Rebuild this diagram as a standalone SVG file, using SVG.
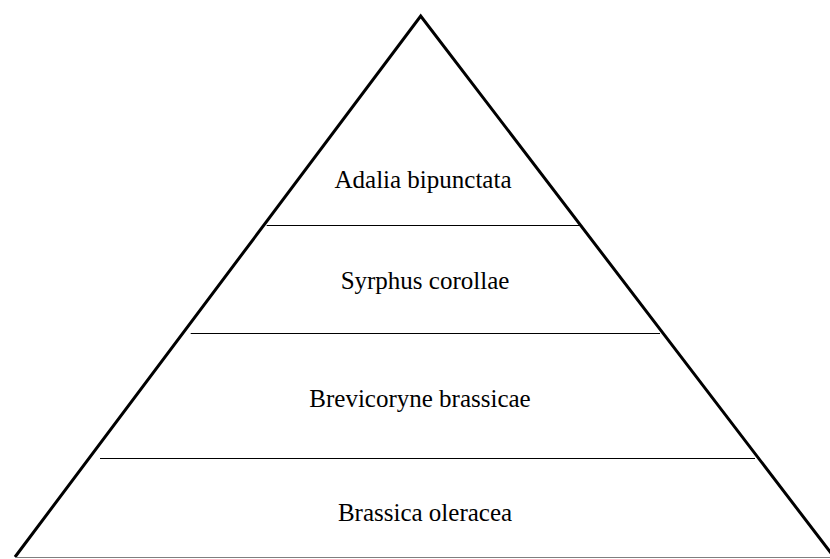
<svg xmlns="http://www.w3.org/2000/svg" width="830" height="559" viewBox="0 0 830 559">
  <style>
    .edge { fill: none; stroke: #000; stroke-width: 3; stroke-linejoin: miter; }
    .tier { stroke: #000; stroke-width: 1.2; }
    .base { stroke: #7f7f7f; stroke-width: 1; }
    .label { font-family: "Liberation Serif", "Times New Roman", serif; font-size: 25px; fill: #000; text-anchor: middle; }
  </style>
  <rect width="830" height="559" fill="#fff"/>
  <!-- pyramid outline -->
  <g id="pyramid">
    <polyline class="edge" points="15,557 420.7,16 834,557"/>
    <line class="base" x1="15" y1="557.5" x2="830" y2="557.5"/>
  </g>
  <!-- tier dividers -->
  <g id="connectors">
    <line class="tier" x1="266.7" y1="225.5" x2="580" y2="225.5"/>
    <line class="tier" x1="190.7" y1="333.5" x2="660" y2="333.5"/>
    <line class="tier" x1="100" y1="458.5" x2="755" y2="458.5"/>
  </g>
  <g id="tier-1"><text class="label" x="423" y="188">Adalia bipunctata</text></g>
  <g id="tier-2"><text class="label" x="425" y="289">Syrphus corollae</text></g>
  <g id="tier-3"><text class="label" x="420" y="407">Brevicoryne brassicae</text></g>
  <g id="tier-4"><text class="label" x="425" y="521">Brassica oleracea</text></g>
</svg>
